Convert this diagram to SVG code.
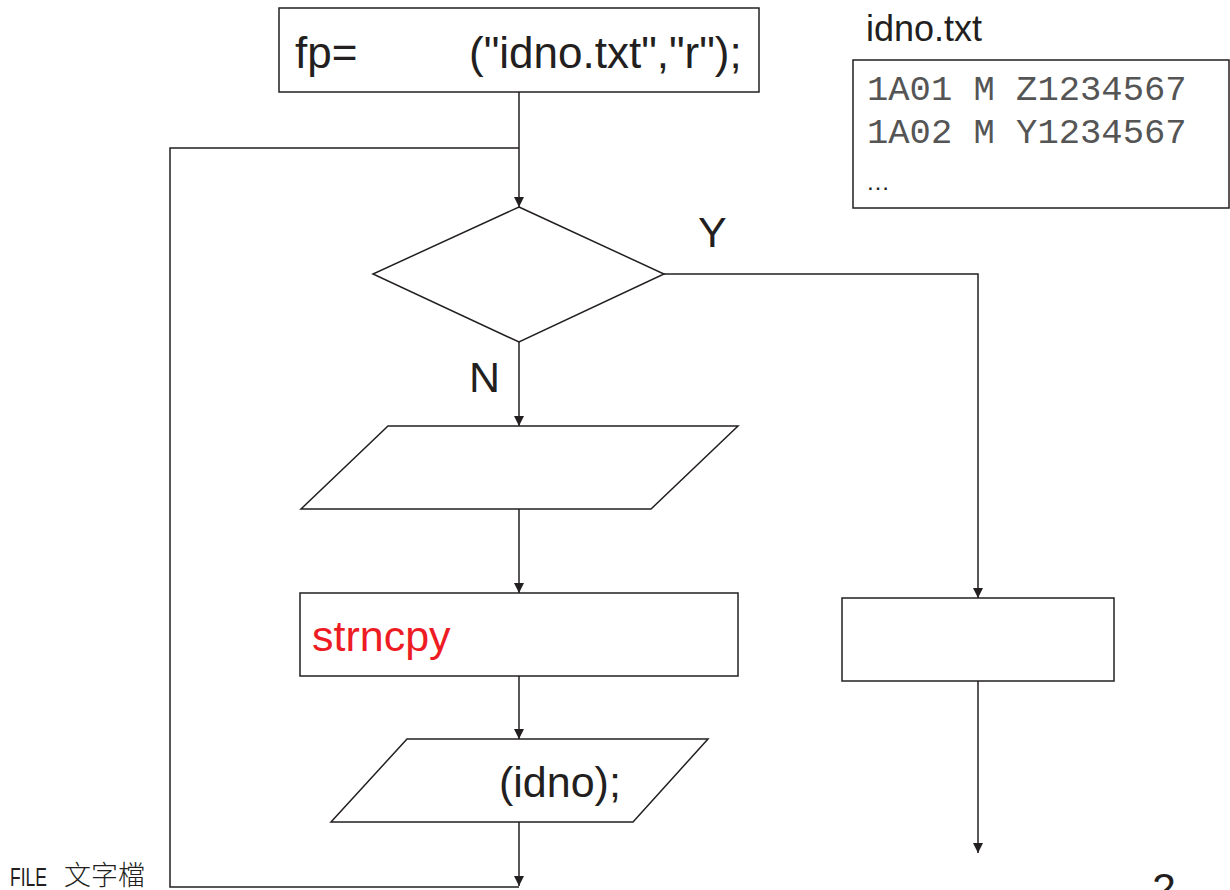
<svg xmlns="http://www.w3.org/2000/svg" width="1230" height="890" viewBox="0 0 1230 890">
<style>
.shape{fill:#fff;stroke:#231f20;stroke-width:1.5}
.ln{fill:none;stroke:#231f20;stroke-width:1.5}
.t{font-family:"Liberation Sans",Arial,sans-serif;font-size:43px;fill:#231f20}
.m{font-family:"Liberation Mono","Courier New",monospace;font-size:35.5px;fill:#555}
</style>
<defs>
<marker id="arr" viewBox="0 0 10 10" refX="10" refY="5" markerWidth="10" markerHeight="10" markerUnits="userSpaceOnUse" orient="auto">
<path d="M0,0 L10,5 L0,10 Z" fill="#231f20"/>
</marker>
</defs>
<rect width="1230" height="890" fill="#fff"/>
<g id="connectors">
<path class="ln" d="M519,92 V207" marker-end="url(#arr)"/>
<path class="ln" d="M519,148 H170 V887 H519"/>
<path class="ln" d="M519,822 V886" marker-end="url(#arr)"/>
<path class="ln" d="M519,342 V426" marker-end="url(#arr)"/>
<path class="ln" d="M519,509 V593" marker-end="url(#arr)"/>
<path class="ln" d="M519,676 V739" marker-end="url(#arr)"/>
<path class="ln" d="M664,274 H978 V598" marker-end="url(#arr)"/>
<path class="ln" d="M978,681 V853" marker-end="url(#arr)"/>
</g>
<g id="open">
<rect class="shape" x="279" y="8" width="480" height="84"/>
<text class="t" x="295" y="68" style="font-size:44px">fp=</text>
<text class="t" x="469" y="68" style="font-size:44px">("idno.txt","r");</text>
</g>
<g id="decision">
<polygon class="shape" points="519,207 664,274 519,342 373,274"/>
</g>
<g id="label-y"><text class="t" x="698" y="247">Y</text></g>
<g id="label-n"><text class="t" x="469" y="392">N</text></g>
<g id="input">
<polygon class="shape" points="388,426 738,426 651,509 301,509"/>
</g>
<g id="copy">
<rect class="shape" x="300" y="593" width="438" height="83"/>
<text class="t" x="312" y="651" style="fill:#ed1c24">strncpy</text>
</g>
<g id="output">
<polygon class="shape" points="407,739 708,739 633,822 331,822"/>
<text class="t" x="499" y="797">(idno);</text>
</g>
<g id="close">
<rect class="shape" x="842" y="598" width="272" height="83"/>
</g>
<g id="file">
<text class="t" x="866" y="41" style="font-size:36px">idno.txt</text>
<rect class="shape" x="853" y="60" width="376" height="148"/>
<text class="m" x="867" y="100">1A01 M Z1234567</text>
<text class="m" x="867" y="143">1A02 M Y1234567</text>
<text class="t" x="866" y="190" style="font-size:24px">…</text>
</g>
<g id="footer">
<text class="t" x="10" y="886" style="font-size:26px"><tspan textLength="37" lengthAdjust="spacingAndGlyphs">FILE</tspan></text>
<text x="64" y="885" style="font-family:'Noto Sans CJK TC','Noto Sans CJK SC',sans-serif;font-size:27px;fill:#231f20;font-weight:300">文字檔</text>
<text class="t" x="1152" y="903">2</text>
</g>
</svg>
